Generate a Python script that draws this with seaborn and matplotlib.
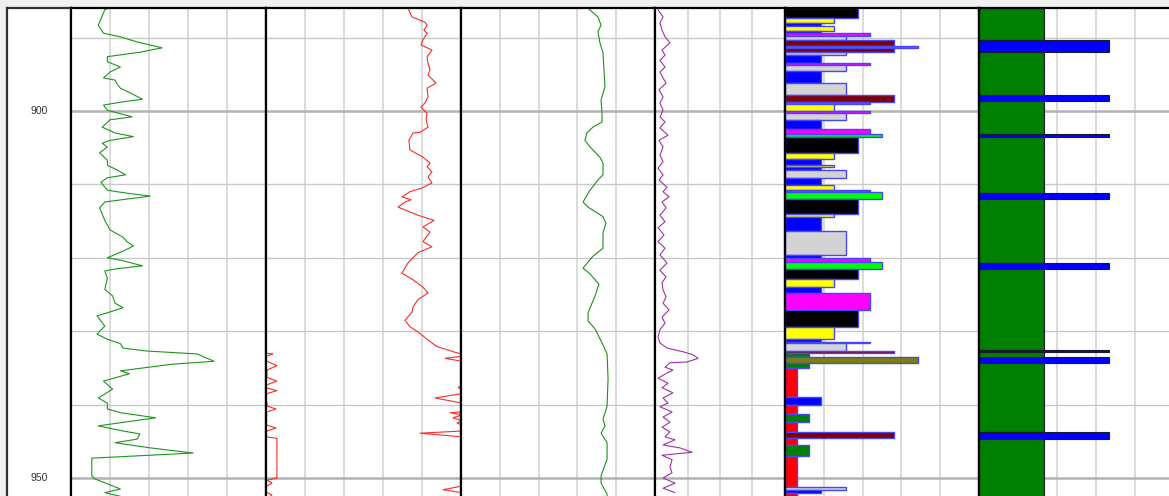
import numpy as np
import matplotlib
matplotlib.use("Agg")
import matplotlib.pyplot as plt
import seaborn as sns

# ============================================================================
# DATA (read off the log display)
# ============================================================================

# Track 1 - green curve (0-150)
gr_depth = [886.0, 886.2, 888.3, 889.4, 889.9, 890.6, 891.4, 892.0, 892.6, 893.3,
            894.0, 894.7, 895.5, 895.8, 896.2, 896.9, 897.4, 898.4, 898.8, 899.2,
            899.9, 900.8, 901.2, 902.2, 903.0, 903.5, 904.0, 904.4, 904.9, 905.7,
            906.7, 907.4, 908.0, 908.7, 909.1, 909.7, 910.8, 911.2, 911.6, 912.0,
            912.4, 913.2, 914.9, 916.2, 917.2, 917.8, 918.4, 919.1, 920.0, 920.4,
            921.1, 921.5, 921.8, 922.8, 924.3, 925.2, 926.2, 926.8, 927.5, 927.9,
            929.3, 930.4, 931.1, 931.7, 932.3, 932.7, 933.1, 934.1, 934.5, 935.4,
            935.8, 936.8, 937.9, 939.1, 939.8, 940.6, 941.1, 941.8, 942.9, 943.6,
            944.0, 944.7, 945.2, 945.9, 946.6, 947.3, 949.7, 950.1, 950.8, 951.5,
            952.0, 952.5]
gr_value = [29, 26, 21, 25, 38, 51, 70, 53, 28, 28,
            38, 30, 25, 34, 35, 38, 44, 55, 38, 25,
            28, 47, 30, 24, 34, 48, 30, 24, 28, 22,
            28, 28, 35, 42, 28, 23, 28, 43, 61, 43,
            26, 22, 26, 30, 40, 43, 48, 40, 28, 40,
            55, 35, 26, 28, 26, 32, 34, 40, 28, 20,
            26, 20, 28, 38, 40, 58, 97, 110, 78, 38,
            45, 25, 32, 21, 28, 28, 38, 65, 21, 40,
            53, 51, 34, 61, 94, 16, 16, 18, 28, 38,
            26, 38]

# Track 2 - red curve (0-100, values above 100 wrap around)
res_depth = [886.0, 887.2, 887.9, 888.3, 889.0, 889.4, 890.3, 891.0, 891.7, 892.6,
             893.5, 894.4, 895.1, 896.2, 896.9, 898.1, 898.9, 899.5, 900.3, 901.2,
             902.2, 902.9, 903.0, 904.0, 905.3, 906.3, 907.1, 907.6, 908.3, 909.0,
             909.8, 910.5, 911.0, 911.7, 912.1, 912.4, 913.1, 914.2, 914.9, 915.8,
             916.5, 917.8, 918.5, 919.3, 920.7, 922.1, 923.0, 924.0, 924.8, 925.7,
             926.7, 927.4, 928.5, 929.4, 930.1, 931.2, 932.1, 933.0,
             933.1, 933.4, 933.7, 934.1, 934.7, 935.3, 936.3, 936.8, 937.3, 937.7,
             938.1, 938.5, 939.1, 939.8, 940.2, 940.6, 941.0, 941.1, 941.4, 941.8,
             942.2, 942.5, 942.8, 943.2, 943.6, 943.9, 944.4, 944.6, 950.0, 950.3,
             950.7, 951.1, 951.6, 952.0, 952.3, 953.0]
res_value = [72.8, 74.9, 81.5, 82.6, 81.0, 82.6, 80.5, 79.5, 85.1, 82.6,
             83.1, 84.1, 83.1, 87.2, 82.6, 83.1, 81.5, 79.5, 82.6, 82.1,
             83.1, 79.0, 75.4, 73.3, 73.8, 80.5, 84.1, 82.6, 85.1, 83.1,
             85.1, 80.0, 73.8, 69.7, 74.4, 71.3, 67.7, 77.9, 86.2, 80.5,
             84.1, 80.5, 85.1, 77.9, 72.8, 69.7, 75.4, 80.5, 83.1, 77.9,
             75.4, 74.9, 71.3, 73.8, 77.9, 83.1, 87.7, 98.5,
             103.6, 100.5, 91.8, 100.5, 105.6, 100.5, 100.5, 105.6, 100.5, 98.5,
             105.6, 100.5, 86.7, 100.5, 100.5, 105.1, 100.5, 94.4, 100.5, 95.9,
             100.5, 97.9, 100.5, 105.1, 100.5, 79.0, 100.5, 105.6, 105.6, 100.5,
             103.1, 100.5, 90.8, 100.5, 103.0, 100.5]

# Track 3 - smooth green curve (0-100)
den_depth = [886.0, 887.2, 888.3, 889.2, 890.7, 892.1, 896.7, 898.5, 900.5, 901.5,
             902.2, 903.0, 904.0, 904.9, 906.3, 907.1, 908.7, 909.4, 910.8, 912.4,
             913.1, 914.4, 915.3, 916.6, 918.7, 919.8, 921.4, 922.2, 923.6, 925.2,
             927.5, 928.6, 929.7, 931.6, 933.1, 936.5, 940.2, 942.0, 942.9, 943.9,
             945.2, 947.4, 949.7, 950.7, 952.2, 953.0]
den_value = [65.5, 70.6, 72.2, 70.6, 71.6, 73.2, 74.2, 72.2, 72.7, 72.7,
             68.0, 64.9, 63.9, 66.5, 71.6, 73.2, 73.2, 70.6, 66.5, 62.9,
             65.5, 73.2, 74.7, 73.2, 73.2, 68.0, 62.9, 66.5, 71.1, 69.1,
             65.5, 65.5, 69.1, 72.7, 75.3, 75.8, 75.3, 73.2, 74.2, 72.2,
             75.3, 75.3, 72.2, 72.2, 75.3, 75.3]

# Track 4 - purple curve (0-100)
pur_depth = [886.2, 887.2, 888.0, 889.0, 889.9, 890.7, 891.7, 892.4, 893.1, 894.0,
             894.7, 895.5, 896.2, 897.1, 898.1, 898.9, 899.9, 900.8, 901.5, 902.3,
             903.3, 904.0, 904.9, 906.0, 906.9, 907.8, 908.7, 909.4, 910.4, 911.0,
             911.7, 912.4, 913.2, 914.2, 915.1, 915.9, 916.9, 917.8, 918.7, 919.6,
             920.7, 921.7, 922.6, 923.4, 924.4, 925.3, 926.2, 927.1, 928.1, 928.9,
             929.8, 930.8, 931.6, 932.3, 932.8, 933.2, 933.7, 934.2, 934.3, 934.9,
             935.3, 935.7, 936.4, 937.1, 937.7, 938.4, 939.1, 939.8, 940.3, 941.0,
             941.7, 942.4, 943.1, 943.7, 944.4, 944.8, 945.5, 945.9, 946.5, 946.7,
             946.9, 947.5, 948.5, 949.3, 950.0, 950.7, 951.4, 952.0]
pur_value = [2.3, 6.2, 3.8, 5.4, 7.7, 11.5, 5.4, 7.7, 3.8, 7.7,
             3.8, 6.2, 8.5, 3.1, 6.2, 3.8, 6.2, 3.8, 7.7, 3.8,
             10.0, 3.1, 6.2, 3.8, 6.2, 2.3, 6.2, 3.1, 9.2, 6.2,
             10.8, 5.4, 8.5, 3.8, 7.7, 2.3, 6.9, 2.3, 7.7, 3.8,
             9.2, 3.8, 8.5, 5.4, 6.2, 8.5, 6.2, 10.8, 5.4, 7.7,
             3.8, 2.3, 3.8, 9.2, 21.5, 29.2, 33.1, 24.6, 11.5, 7.7,
             13.8, 9.2, 2.3, 10.0, 5.4, 13.8, 6.2, 10.0, 3.8, 13.1,
             6.2, 11.5, 5.4, 11.5, 7.7, 15.4, 6.2, 19.2, 28.5, 16.9,
             5.4, 13.1, 11.5, 13.1, 6.2, 15.4, 6.2, 15.4]

# Track 5 - lithology intervals (top depth, code)
lith_top = [886.0, 887.3, 888.0, 888.4, 889.1, 889.4, 889.8, 890.3, 891.1, 891.4,
            892.0, 892.4, 893.5, 893.7, 894.5, 896.2, 897.8, 898.8, 899.0, 900.0,
            900.3, 901.2, 902.5, 903.1, 903.5, 905.7, 906.5, 907.4, 907.6, 908.0,
            909.1, 910.1, 910.8, 911.0, 912.0, 914.0, 914.4, 916.3, 919.6, 920.0,
            920.6, 921.5, 922.9, 924.0, 924.8, 927.1, 929.4, 931.1, 931.5, 931.6,
            932.7, 933.0, 933.5, 934.3, 935.0, 939.0, 940.0, 941.3, 942.4, 943.7,
            944.5, 945.5, 947.0, 951.2, 951.6, 952.0]
lith_code = [6, 4, 3, 4, 3, 7, 5, 9, 11, 9,
             5, 3, 7, 5, 3, 5, 9, 7, 4, 7,
             5, 3, 7, 8, 6, 4, 3, 4, 3, 5,
             3, 4, 7, 8, 6, 4, 3, 5, 3, 7,
             8, 6, 4, 3, 7, 6, 4, 3, 7, 5,
             9, 2, 11, 2, 1, 3, 1, 2, 1, 9,
             1, 2, 1, 5, 3, 1]
lith_colors = {1: "#ff0000", 2: "#008000", 3: "#0000ff", 4: "#ffff00",
               5: "#d3d3d3", 6: "#000000", 7: "#ff00ff", 8: "#00ff00",
               9: "#800000", 11: "#808000"}

# Track 6 - flag intervals (top depth, code)
flag_top = [886.0, 890.3, 892.0, 897.8, 898.6, 903.1, 903.5, 911.2, 912.0,
            920.7, 921.5, 932.6, 932.8, 933.5, 934.3, 943.7, 944.7]
flag_code = [1, 2, 1, 2, 1, 2, 1, 2, 1, 2, 1, 2, 1, 2, 1, 2, 1]
flag_colors = {1: "#008000", 2: "#0000ff"}

depth_labels = [900, 950]
DEPTH_TOP, DEPTH_BASE = 885.97, 953.0


# ============================================================================
# LAYOUT
# ============================================================================

sns.set_style("white")
plt.rcParams["font.family"] = ["Liberation Sans", "DejaVu Sans"]

W, H = 1169, 496
fig = plt.figure(figsize=(W / 100, H / 100), dpi=100, facecolor="#f0f0f0")
TOP_PX, BOT_PX = 8, 500


def add_track(x0, x1, xlim, ndiv):
    ax = fig.add_axes([x0 / W, 1 - BOT_PX / H, (x1 - x0) / W, (BOT_PX - TOP_PX) / H])
    ax.set_facecolor("white")
    ax.set_xlim(*xlim)
    ax.set_ylim(DEPTH_BASE, DEPTH_TOP)
    if ndiv:
        ax.set_xticks(np.linspace(xlim[0], xlim[1], ndiv + 1)[1:-1])
        ax.xaxis.grid(True, color="#d8d8d8", lw=1.3)
    ax.set_yticks(range(890, 951, 10))
    ax.yaxis.grid(True, color="#c8c8c8", lw=1.0)
    for d in depth_labels:
        ax.axhline(d, color="#b4b4b4", lw=1.8, zorder=0.6)
    ax.set_axisbelow(True)
    ax.tick_params(length=0, labelbottom=False, labelleft=False)
    for side in ["left", "right", "top"]:
        ax.spines[side].set_visible(True)
        ax.spines[side].set_color("black")
        ax.spines[side].set_linewidth(1.6)
    ax.spines["bottom"].set_visible(False)
    ax.set_xlabel("")
    ax.set_ylabel("")
    return ax


def draw_curve(ax, x, y, color):
    sns.lineplot(x=x, y=y, orient="y", sort=False, estimator=None,
                 color=color, lw=0.8, ax=ax)
    ax.set_xlabel("")
    ax.set_ylabel("")


# depth column
ax_d = fig.add_axes([7 / W, 1 - BOT_PX / H, 64 / W, (BOT_PX - TOP_PX) / H])
ax_d.set_facecolor("white")
ax_d.set_ylim(DEPTH_BASE, DEPTH_TOP)
ax_d.set_xlim(0, 1)
ax_d.tick_params(length=0, labelbottom=False, labelleft=False)
for side in ["left", "top", "right"]:
    ax_d.spines[side].set_color("#303030")
    ax_d.spines[side].set_linewidth(1.6)
ax_d.spines["bottom"].set_visible(False)
for d in depth_labels:
    ax_d.text(0.5, d, str(d), ha="center", va="center", fontsize=7.5, color="#333333")

# track 1
ax1 = add_track(71, 266, (0, 150), 5)
draw_curve(ax1, gr_value, gr_depth, "#1c961c")

# track 2 (with wrap-around)
ax2 = add_track(266, 461, (0, 100), 5)
res = np.array(res_value)
rdep = np.array(res_depth)
draw_curve(ax2, res, rdep, "#ff2a2a")
wrap = rdep >= 933.0
draw_curve(ax2, np.where(res[wrap] > 100, res[wrap] - 100, 0.0), rdep[wrap], "#ff2a2a")

# track 3
ax3 = add_track(461, 655, (0, 100), 5)
draw_curve(ax3, den_value, den_depth, "#1c8f1c")

# track 4
ax4 = add_track(655, 785, (0, 100), 4)
draw_curve(ax4, pur_value, pur_depth, "#a030a8")

# track 5 - lithology bars
ax5 = add_track(785, 979, (0, 16), 5)
lith_base = lith_top[1:] + [DEPTH_BASE]
ax5.barh(lith_top, lith_code, height=np.subtract(lith_base, lith_top), left=0,
         align="edge", color=[lith_colors[c] for c in lith_code],
         edgecolor="#4646ff", linewidth=1.0, zorder=2)

# track 6 - flags
ax6 = add_track(979, 1174, (0, 3), 5)
flag_base = flag_top[1:] + [DEPTH_BASE]
ax6.barh(flag_top, flag_code, height=np.subtract(flag_base, flag_top), left=0,
         align="edge", color=[flag_colors[c] for c in flag_code],
         edgecolor="#1a1a2a", linewidth=0.8, zorder=2)

fig.savefig("out.png", dpi=100, facecolor=fig.get_facecolor())
